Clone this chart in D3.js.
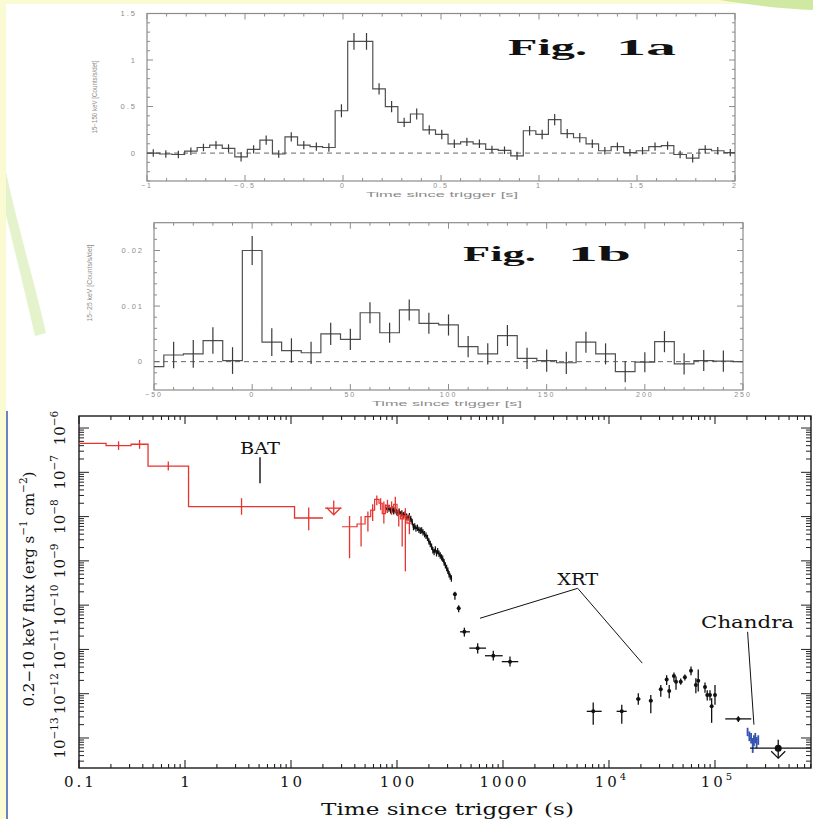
<!DOCTYPE html>
<html>
<head>
<meta charset="utf-8">
<script src="https://cdn.jsdelivr.net/npm/d3@7"></script>
<style>
  body { margin: 0; background: #fbfbd3; }
  svg { display: block; }
</style>
</head>
<body>
<svg id="fig" width="813" height="819"></svg>
<script>
// ---------- Fig. 1a : 15-150 keV, 64 ms bins starting at -1 s ----------
const binStartA = -1, binWidthA = 0.064;
const rateA = [0.00, -0.01, -0.015, 0.02, 0.06, 0.085, 0.05, -0.04, 0.04, 0.14,
               -0.01, 0.175, 0.085, 0.07, 0.06, 0.455, 1.2, 1.2, 0.69, 0.5,
               0.33, 0.42, 0.25, 0.2, 0.1, 0.12, 0.1, 0.04, 0.03, -0.03,
               0.24, 0.2, 0.36, 0.21, 0.165, 0.1, 0.025, 0.07, 0.005, 0.025,
               0.07, 0.08, -0.015, -0.055, 0.04, 0.025, 0.005];
const errA = [0.04, 0.04, 0.04, 0.04, 0.04, 0.045, 0.045, 0.05, 0.045, 0.05,
              0.04, 0.05, 0.045, 0.045, 0.045, 0.07, 0.09, 0.09, 0.06, 0.06,
              0.05, 0.06, 0.05, 0.05, 0.045, 0.045, 0.045, 0.04, 0.04, 0.045,
              0.05, 0.05, 0.06, 0.05, 0.05, 0.045, 0.04, 0.045, 0.04, 0.04,
              0.045, 0.045, 0.04, 0.045, 0.045, 0.04, 0.04];
const xTicksA = [-1, -0.5, 0, 0.5, 1, 1.5, 2];
const yTicksA = [0, 0.5, 1, 1.5];

// ---------- Fig. 1b : 15-25 keV, 10 s bins ----------
const timeB = [-50, -40, -30, -20, -10, 0, 10, 20, 30, 40, 50, 60, 70, 80, 90, 100,
               110, 120, 130, 140, 150, 160, 170, 180, 190, 200, 210, 220, 230, 240, 250];
const rateB = [-0.0009, 0.0012, 0.0014, 0.0038, 0.0002, 0.020, 0.0035, 0.002, 0.0016, 0.005,
               0.004, 0.0088, 0.0052, 0.0093, 0.0069, 0.0066, 0.0027, 0.0014, 0.0047, 0.0006,
               0.0002, -0.0002, 0.0035, 0.0014, -0.0018, -0.0001, 0.0036, -0.0004, 0.0002, 0.0001, 0.0];
const errB = [null, 0.0024, 0.0025, 0.0024, 0.0024, 0.0026, 0.0025, 0.0022, 0.002, 0.002,
              0.0019, 0.0019, 0.0018, 0.0019, 0.0019, 0.0019, 0.0019, 0.0019, 0.0019, 0.0019,
              0.002, 0.002, 0.0019, 0.0019, 0.0019, 0.0018, 0.0019, 0.0019, 0.0019, 0.0019, null];
const xTicksB = [-50, 0, 50, 100, 150, 200, 250];
const yTicksB = [0, 0.01, 0.02];

// ---------- X-ray light curve (flux in erg/s/cm2) ----------
// BAT extrapolated, prompt bins
const batT0 = [0.1, 0.18, 0.31, 0.448, 1.08, 10.8];
const batT1 = [0.18, 0.31, 0.448, 1.08, 10.8, 20];
const batF  = [4.5e-7, 4.0e-7, 4.3e-7, 1.38e-7, 1.68e-8, 9.3e-9];
const batLo = [null, 3.2e-7, 3.4e-7, 1.1e-7, 1.1e-8, 4.9e-9];
const batHi = [null, 5.0e-7, 5.4e-7, 1.75e-7, 2.6e-8, 1.6e-8];
// BAT late bins (overlapping XRT)
const bat2T0 = [30.3, 42, 50, 56.5, 61.5, 67.6, 72.6, 77.8, 85, 93, 100, 108, 116, 124];
const bat2T1 = [42, 50, 56.5, 61.5, 67.6, 72.6, 77.8, 85, 93, 100, 108, 116, 124, 138];
const bat2F  = [5.9e-9, 6.8e-9, 1.0e-8, 1.4e-8, 2.45e-8, 2.0e-8, 1.17e-8, 1.8e-8, 1.6e-8, 1.9e-8, 1.12e-8, 8.9e-9, 1.05e-8, 7.1e-9];
const bat2Lo = [1.15e-9, 2.1e-9, 4.6e-9, 8.0e-9, 1.8e-8, 1.4e-8, 7.0e-9, 1.2e-8, 1.1e-8, 1.2e-8, 6.0e-9, 2.1e-9, 5.8e-10, 4.0e-9];
const bat2Hi = [1.03e-8, 1.02e-8, 1.3e-8, 1.9e-8, 3.0e-8, 2.6e-8, 2.2e-8, 2.4e-8, 2.2e-8, 2.8e-8, 1.5e-8, 1.3e-8, 1.55e-8, 1.1e-8];
// BAT upper limit
const batUL = {t: 25.3, t0: 21, t1: 30, top: 2.3e-8, f: 1.55e-8, tip: 1.1e-8};
// XRT windowed timing
const wtT = [78, 81, 84, 87, 90, 93, 96, 99, 102, 105, 108, 111, 115, 119, 123, 127, 131, 135, 139, 143,
             147, 151, 156, 161, 166, 171, 176, 182, 188, 194, 200, 206, 212, 218, 224, 230, 236, 242, 249, 256,
             263, 270, 278, 286, 294, 302, 310, 318, 326];
const wtF = [1.58e-8, 1.45e-8, 1.51e-8, 1.38e-8, 1.45e-8, 1.32e-8, 1.38e-8, 1.26e-8, 1.20e-8, 1.29e-8,
             1.12e-8, 1.18e-8, 1.07e-8, 1.12e-8, 1.0e-8, 9.5e-9, 1.02e-8, 8.9e-9, 7.6e-9, 5.8e-9,
             6.0e-9, 5.4e-9, 5.6e-9, 5.0e-9, 4.8e-9, 4.9e-9, 4.4e-9, 4.0e-9, 3.7e-9, 3.3e-9,
             2.75e-9, 2.4e-9, 2.1e-9, 1.74e-9, 1.58e-9, 1.82e-9, 1.48e-9, 1.66e-9, 1.45e-9, 1.32e-9,
             1.2e-9, 1.12e-9, 9.3e-10, 7.9e-10, 6.9e-10, 6.0e-10, 5.0e-10, 4.4e-10, 4.0e-10];
const wtRelErr = 0.18;
// XRT photon counting
const pcT  = [352, 382, 432, 577, 810, 1164, 7100, 13200, 18900, 24800, 30800, 35000, 37000, 41000, 42900,
              47500, 52000, 59400, 66000, 69500, 80500, 84500, 89700, 93000, 100000, 166000];
const pcT0 = [345, 375, 393, 481, 676, 973, 6170, 11800, 18000, 23800, 29800, 34000, 36000, 40000, 42000,
              46000, 50500, 58000, 64500, 68000, 79000, 83000, 88000, 91500, 98000, 125000];
const pcT1 = [360, 390, 488, 692, 993, 1393, 8530, 14700, 19800, 25800, 31800, 36000, 38000, 42000, 43800,
              49000, 53500, 61000, 67500, 71000, 82000, 86000, 91500, 94500, 102000, 220000];
const pcF  = [1.76e-10, 8.5e-11, 2.5e-11, 1.07e-11, 7.2e-12, 5.3e-12, 4.0e-13, 4.0e-13, 7.6e-13, 6.9e-13,
              1.26e-12, 2.1e-12, 1.15e-12, 2.5e-12, 1.86e-12, 1.86e-12, 2.35e-12, 3.3e-12, 1.58e-12, 1.95e-12,
              1.41e-12, 9.3e-13, 9.3e-13, 5.2e-13, 9.3e-13, 2.7e-13];
const pcLo = [1.32e-10, 6.9e-11, 1.95e-11, 8.1e-12, 5.6e-12, 4.1e-12, 2.0e-13, 2.1e-13, 5.6e-13, 3.6e-13,
              8.5e-13, 1.58e-12, 7.9e-13, 1.86e-12, 1.23e-12, 1.6e-12, 2.0e-12, 2.6e-12, 1.02e-12, 1.12e-12,
              1.05e-12, 7.0e-13, 7.0e-13, 2.2e-13, 5.6e-13, 2.3e-13];
const pcHi = [2.02e-10, 1.0e-10, 3.1e-11, 1.38e-11, 9.3e-12, 6.9e-12, 6.3e-13, 5.6e-13, 1.02e-12, 9.3e-13,
              1.58e-12, 2.6e-12, 1.58e-12, 3.0e-12, 2.45e-12, 2.2e-12, 2.7e-12, 4.1e-12, 2.24e-12, 3.5e-12,
              1.8e-12, 1.2e-12, 1.2e-12, 7.9e-13, 1.58e-12, 3.1e-13];
// Chandra
const chT  = [2.03e5, 2.11e5, 2.19e5, 2.27e5, 2.33e5, 2.40e5, 2.47e5, 2.56e5];
const chF  = [1.40e-13, 1.12e-13, 1.0e-13, 7.6e-14, 8.7e-14, 1.0e-13, 7.9e-14, 9.1e-14];
const chLo = [1.1e-13, 8.5e-14, 7.5e-14, 4.6e-14, 6.5e-14, 7.6e-14, 5.8e-14, 7.0e-14];
const chHi = [1.7e-13, 1.4e-13, 1.3e-13, 1.0e-13, 1.15e-13, 1.3e-13, 1.05e-13, 1.15e-13];
const lateUL = {t: 3.95e5, t0: 2.14e5, t1: 8.0e5, top: 9.1e-14, f: 5.9e-14, tip: 3.5e-14};

const xLabelVals = [0.1, 1, 10, 100, 1000, 1e4, 1e5];
const xLabelText = ["0.1", "1", "10", "100", "1000", "10^4", "10^5"];
const yLabelVals = [1e-13, 1e-12, 1e-11, 1e-10, 1e-9, 1e-8, 1e-7, 1e-6];
const yLabelExp  = ["−13", "−12", "−11", "−10", "−9", "−8", "−7", "−6"];

const W = 813, H = 819;
const svg = d3.select("#fig");

// slide background
svg.append("rect").attr("width", W).attr("height", H).attr("fill", "#fbfbd3");
svg.append("rect").attr("x", 6).attr("y", 4).attr("width", W - 6).attr("height", H - 4).attr("fill", "#ffffff");
svg.append("path").attr("d", "M6,172 C18,228 34,280 46,333 L35,336 C25,292 14,248 6,215 Z")
  .attr("fill", "#cfe9a2").attr("opacity", 0.55);
svg.append("path").attr("d", "M720,0 L813,0 L813,10 C785,9 750,5 720,0 Z").attr("fill", "#cfe9a2");
svg.append("line").attr("x1", 7).attr("x2", 7).attr("y1", 411).attr("y2", H)
  .attr("stroke", "#3a5aa8").attr("stroke-width", 1.5);

function drawLightCurve(o) {
  const x = d3.scaleLinear().domain(o.xDomain).range([o.left, o.right]);
  const y = d3.scaleLinear().domain(o.yDomain).range([o.bottom, o.top]);
  const g = svg.append("g");
  const grey = "#8c8c8c";
  const isMajor = (list, v) => list.some(m => Math.abs(m - v) < 1e-9);

  g.append("clipPath").attr("id", o.id)
    .append("rect")
      .attr("x", o.left).attr("y", o.top)
      .attr("width", o.right - o.left).attr("height", o.bottom - o.top);

  // ticks on all four sides, pointing inward
  [[o.bottom, -1], [o.top, 1]].forEach(function(s) {
    g.append("g").selectAll("line")
      .data(x.ticks(o.xMinor))
      .join("line")
        .attr("x1", d => x(d)).attr("x2", d => x(d))
        .attr("y1", s[0]).attr("y2", d => s[0] + s[1] * (isMajor(o.xTicks, d) ? 6 : 3))
        .attr("stroke", grey);
  });
  [[o.left, 1], [o.right, -1]].forEach(function(s) {
    g.append("g").selectAll("line")
      .data(y.ticks(o.yMinor))
      .join("line")
        .attr("y1", d => y(d)).attr("y2", d => y(d))
        .attr("x1", s[0]).attr("x2", d => s[0] + s[1] * (isMajor(o.yTicks, d) ? 6 : 3))
        .attr("stroke", grey);
  });

  g.append("rect")
    .attr("x", o.left).attr("y", o.top)
    .attr("width", o.right - o.left).attr("height", o.bottom - o.top)
    .attr("fill", "none").attr("stroke", grey).attr("stroke-width", 1.2);

  g.append("line")
    .attr("x1", o.left).attr("x2", o.right)
    .attr("y1", y(0)).attr("y2", y(0))
    .attr("stroke", "#666").attr("stroke-dasharray", "5,4");

  const bins = o.centers.map((c, i) => ({c: c, x0: c - o.width / 2, x1: c + o.width / 2, v: o.values[i], e: o.errors[i]}));
  const stepPts = bins.flatMap(b => [[b.x0, b.v], [b.x1, b.v]]);

  const data = g.append("g").attr("clip-path", `url(#${o.id})`);
  data.append("path")
    .datum(stepPts)
    .attr("d", d3.line().x(d => x(d[0])).y(d => y(d[1])))
    .attr("fill", "none").attr("stroke", "#505050").attr("stroke-width", 1.2);
  data.selectAll(".err")
    .data(bins.filter(b => b.e != null))
    .join("line")
      .attr("x1", b => x(b.c)).attr("x2", b => x(b.c))
      .attr("y1", b => y(b.v - b.e)).attr("y2", b => y(b.v + b.e))
      .attr("stroke", "#3a3a3a").attr("stroke-width", 1.2);

  const fmt = d3.format("");
  g.append("g").selectAll("text")
    .data(o.xTicks)
    .join("text")
      .attr("x", d => x(d)).attr("y", o.bottom + 7)
      .attr("text-anchor", "middle")
      .style("font-family", "Liberation Sans").style("font-size", "7px")
      .style("letter-spacing", "2px").attr("fill", grey)
      .text(d => fmt(d));
  g.append("g").selectAll("text")
    .data(o.yTicks)
    .join("text")
      .attr("x", o.left - 10).attr("y", d => y(d) + 2.5)
      .attr("text-anchor", "end")
      .style("font-family", "Liberation Sans").style("font-size", "7.5px")
      .style("letter-spacing", "2px").attr("fill", grey)
      .text(d => fmt(d));

  g.append("text")
    .attr("x", o.xTitle[0]).attr("y", o.xTitle[1])
    .attr("textLength", o.xTitle[2]).attr("lengthAdjust", "spacingAndGlyphs")
    .style("font-family", "Liberation Sans").style("font-size", "7.5px").attr("fill", grey)
    .text("Time since trigger [s]");
  g.append("text")
    .attr("transform", `translate(${o.yTitle[0]},${o.yTitle[1]}) rotate(-90)`)
    .attr("text-anchor", "middle")
    .attr("textLength", o.yTitle[2]).attr("lengthAdjust", "spacingAndGlyphs")
    .style("font-family", "Liberation Sans").style("font-size", "6.5px").attr("fill", grey)
    .text(o.yLabel);

  o.fig.forEach(function(f) {
    g.append("text")
      .attr("x", f[1]).attr("y", f[3])
      .attr("textLength", f[2]).attr("lengthAdjust", "spacingAndGlyphs")
      .style("font-family", "Liberation Serif").style("font-weight", "bold")
      .style("font-size", f[4] + "px").attr("fill", "#111")
      .text(f[0]);
  });
}

drawLightCurve({
  id: "clipA", left: 147, right: 735, top: 13.5, bottom: 181,
  xDomain: [-1, 2], yDomain: [-0.3, 1.5], xMinor: 30, yMinor: 18,
  xTicks: xTicksA, yTicks: yTicksA,
  centers: rateA.map((v, i) => binStartA + (i + 0.5) * binWidthA), width: binWidthA,
  values: rateA, errors: errA,
  xTitle: [366, 197, 152], yTitle: [97, 97, 73], yLabel: "15−150 keV [Counts/s/det]",
  fig: [["Fig.", 508, 79, 55, 24], ["1a", 616, 60, 55, 24]]
});

drawLightCurve({
  id: "clipB", left: 154, right: 743, top: 222.7, bottom: 390,
  xDomain: [-50, 250], yDomain: [-0.0051, 0.025], xMinor: 30, yMinor: 15,
  xTicks: xTicksB, yTicks: yTicksB,
  centers: timeB, width: 10,
  values: rateB, errors: errB,
  xTitle: [372, 406, 150], yTitle: [92, 283, 77], yLabel: "15−25 keV [Counts/s/det]",
  fig: [["Fig.", 463, 73, 261, 22], ["1b", 568, 63, 261, 22]]
});

// ---------- lower panel: 0.2-10 keV flux light curve ----------
const fx = d3.scaleLog().domain([0.1, 8.05e5]).range([79, 811]);
const fy = d3.scaleLog().domain([2.1e-14, 1.87e-6]).range([768, 416]);
const L = svg.append("g");
const serif = "DejaVu Serif";
const red = "#e8332f", blue = "#3553b0";
const isDecade = v => Math.abs(Math.log10(v) - Math.round(Math.log10(v))) < 1e-6;

[[768, -1], [416, 1]].forEach(function(s) {
  L.append("g").selectAll("line")
    .data(fx.ticks(12))
    .join("line")
      .attr("x1", d => fx(d)).attr("x2", d => fx(d))
      .attr("y1", s[0]).attr("y2", d => s[0] + s[1] * (isDecade(d) ? 8 : 4))
      .attr("stroke", "#222").attr("stroke-width", 1.1);
});
[[79, 1], [811, -1]].forEach(function(s) {
  L.append("g").selectAll("line")
    .data(fy.ticks(12))
    .join("line")
      .attr("y1", d => fy(d)).attr("y2", d => fy(d))
      .attr("x1", s[0]).attr("x2", d => s[0] + s[1] * (isDecade(d) ? 10 : 5))
      .attr("stroke", "#222").attr("stroke-width", 1);
});
L.append("rect")
  .attr("x", 79).attr("y", 416).attr("width", 811 - 79).attr("height", 768 - 416)
  .attr("fill", "none").attr("stroke", "#1a1a1a").attr("stroke-width", 1.4);

const lineT = d3.line().x(d => fx(d[0])).y(d => fy(d[1]));
function errBars(g, ts, fs, t0s, t1s, los, his, color, w) {
  ts.forEach(function(t, i) {
    if (los && los[i] != null) {
      g.append("line").attr("x1", fx(t)).attr("x2", fx(t))
        .attr("y1", fy(los[i])).attr("y2", fy(his[i]))
        .attr("stroke", color).attr("stroke-width", w);
    }
    g.append("line").attr("x1", fx(t0s[i])).attr("x2", fx(t1s[i]))
      .attr("y1", fy(fs[i])).attr("y2", fy(fs[i]))
      .attr("stroke", color).attr("stroke-width", w);
  });
}

// XRT WT: dense black points
const wt = L.append("g");
wt.append("path")
  .datum(wtT.map((t, i) => [t, wtF[i]]))
  .attr("d", lineT).attr("fill", "none").attr("stroke", "#111").attr("stroke-width", 1.4);
errBars(wt, wtT, wtF, wtT.map(t => t * 0.985), wtT.map(t => t * 1.015),
        wtF.map(f => f / (1 + wtRelErr)), wtF.map(f => f * (1 + wtRelErr)), "#111", 1.2);

// BAT prompt histogram
const bat = L.append("g");
bat.append("path")
  .datum(batT0.flatMap((t, i) => [[t, batF[i]], [batT1[i], batF[i]]]))
  .attr("d", lineT).attr("fill", "none").attr("stroke", red).attr("stroke-width", 1.3);
batT0.forEach(function(t, i) {
  if (batLo[i] == null) return;
  const c = Math.sqrt(t * batT1[i]);
  bat.append("line").attr("x1", fx(c)).attr("x2", fx(c))
    .attr("y1", fy(batLo[i])).attr("y2", fy(batHi[i]))
    .attr("stroke", red).attr("stroke-width", 1.3);
});
bat.append("path")
  .datum(bat2T0.flatMap((t, i) => [[t, bat2F[i]], [bat2T1[i], bat2F[i]]]))
  .attr("d", lineT).attr("fill", "none").attr("stroke", red).attr("stroke-width", 1.2);
bat2T0.forEach(function(t, i) {
  const c = Math.sqrt(t * bat2T1[i]);
  bat.append("line").attr("x1", fx(c)).attr("x2", fx(c))
    .attr("y1", fy(bat2Lo[i])).attr("y2", fy(bat2Hi[i]))
    .attr("stroke", red).attr("stroke-width", 1.3);
});

function upperLimit(g, u, color, dot) {
  g.append("line").attr("x1", fx(u.t0)).attr("x2", fx(u.t1))
    .attr("y1", fy(u.f)).attr("y2", fy(u.f)).attr("stroke", color).attr("stroke-width", 1.3);
  g.append("line").attr("x1", fx(u.t)).attr("x2", fx(u.t))
    .attr("y1", fy(u.top)).attr("y2", fy(u.tip)).attr("stroke", color).attr("stroke-width", 1.3);
  const tx = fx(u.t), ty = fy(u.tip);
  g.append("path").attr("d", `M${tx - 7},${ty - 7}L${tx},${ty}L${tx + 7},${ty - 7}`)
    .attr("fill", "none").attr("stroke", color).attr("stroke-width", 1.3);
  if (dot) g.append("circle").attr("cx", tx).attr("cy", fy(u.f)).attr("r", 3.5).attr("fill", color);
}
upperLimit(bat, batUL, red, false);

// XRT PC points
const pc = L.append("g");
errBars(pc, pcT, pcF, pcT0, pcT1, pcLo, pcHi, "#111", 1.3);
pc.selectAll("circle")
  .data(pcT)
  .join("circle")
    .attr("cx", d => fx(d)).attr("cy", (d, i) => fy(pcF[i])).attr("r", 2)
    .attr("fill", "#111");

// Chandra
const ch = L.append("g");
errBars(ch, chT, chF, chT.map(t => t * 0.985), chT.map(t => t * 1.015), chLo, chHi, blue, 1.8);
upperLimit(ch, lateUL, "#111", true);

// annotations
const annot = L.append("g").attr("stroke", "#111").attr("stroke-width", 1).attr("fill", "none");
annot.append("path").datum([[5.1, 2.2e-7], [5.1, 5.7e-8]]).attr("d", lineT).attr("stroke-width", 1.4);
annot.append("path").datum([[607, 5.06e-11], [5070, 2.4e-10], [2.06e4, 4.9e-12]]).attr("d", lineT);
annot.append("path").datum([[2.03e5, 2.5e-11], [2.33e5, 2.0e-13]]).attr("d", lineT);
[["BAT", 5.1, 2.2e-7, 40], ["XRT", 5070, 2.4e-10, 41], ["Chandra", 2.03e5, 2.5e-11, 93]].forEach(function(a) {
  L.append("text")
    .attr("x", fx(a[1]) - a[3] / 2).attr("y", fy(a[2]) - 3.5)
    .attr("textLength", a[3]).attr("lengthAdjust", "spacingAndGlyphs")
    .style("font-family", serif).style("font-size", "16px").attr("fill", "#111")
    .text(a[0]);
});

// tick labels
xLabelVals.forEach(function(v, i) {
  const parts = xLabelText[i].split("^");
  const t = L.append("text")
    .attr("x", fx(v) + 1.5).attr("y", 787)
    .attr("text-anchor", "middle")
    .style("font-family", serif).style("font-size", "15px").style("letter-spacing", "3px")
    .attr("fill", "#111");
  t.append("tspan").text(parts[0]);
  if (parts[1]) t.append("tspan").attr("dy", -7).style("font-size", "10px").style("letter-spacing", "0px").text(parts[1]);
});
yLabelVals.forEach(function(v, i) {
  const t = L.append("text")
    .attr("transform", `translate(65,${fy(v)}) rotate(-90)`)
    .attr("text-anchor", "middle")
    .style("font-family", serif).style("font-size", "15px").attr("fill", "#111");
  t.append("tspan").text("10");
  t.append("tspan").attr("dy", -7).style("font-size", "10.5px").text(yLabelExp[i]);
});

// axis titles
L.append("text")
  .attr("x", 321).attr("y", 815)
  .attr("textLength", 253).attr("lengthAdjust", "spacingAndGlyphs")
  .style("font-family", serif).style("font-size", "17px").attr("fill", "#111")
  .text("Time since trigger (s)");
const yt = L.append("text")
  .attr("transform", "translate(34,589) rotate(-90)")
  .attr("text-anchor", "middle")
  .style("font-family", serif).style("font-size", "15px").attr("fill", "#111");
yt.append("tspan").text("0.2−10 keV flux (erg s");
yt.append("tspan").attr("dy", -7).style("font-size", "10.5px").text("−1");
yt.append("tspan").attr("dy", 7).text(" cm");
yt.append("tspan").attr("dy", -7).style("font-size", "10.5px").text("−2");
yt.append("tspan").attr("dy", 7).text(")");
</script>
</body>
</html>
